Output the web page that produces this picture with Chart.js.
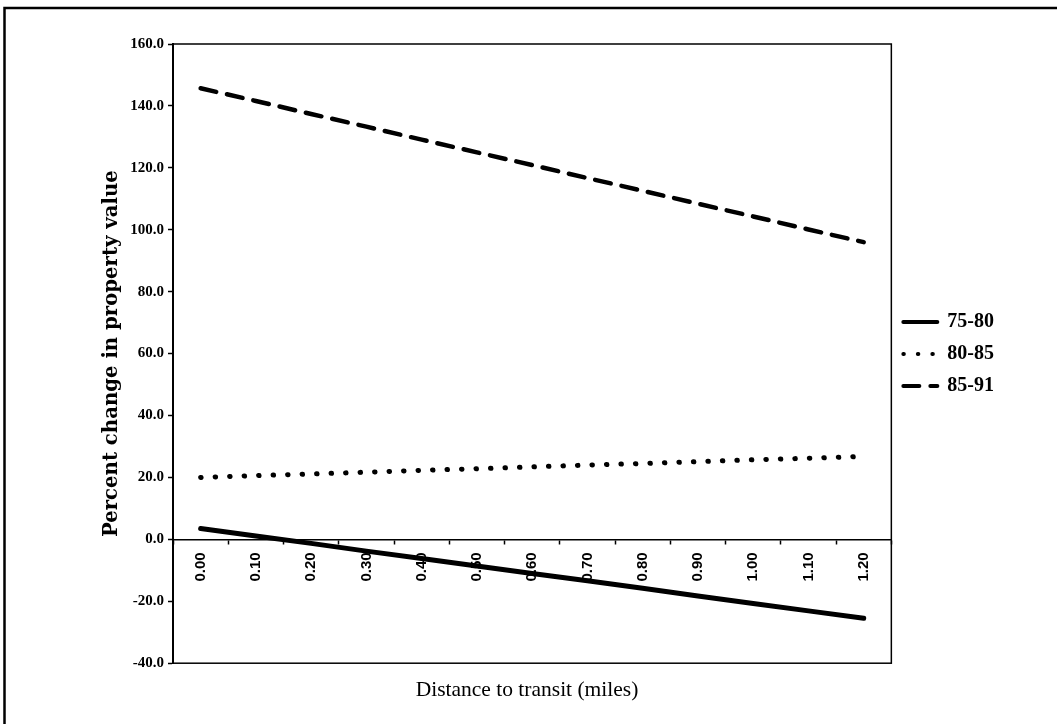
<!DOCTYPE html>
<html>
<head>
<meta charset="utf-8">
<script src="https://cdn.jsdelivr.net/npm/chart.js@4"></script>
<style>
  html, body { margin: 0; padding: 0; background: #fff; }
  #wrap { width: 1057px; height: 724px; }
</style>
</head>
<body>
<div id="wrap"><canvas id="chart"></canvas></div>
<script>
const distances = ['0.00', '0.10', '0.20', '0.30', '0.40', '0.50', '0.60', '0.70', '0.80', '0.90', '1.00', '1.10', '1.20'];
const seriesNames = ['75-80', '80-85', '85-91'];
const change7580 = [3.5, 1.1, -1.3, -3.8, -6.2, -8.6, -11.0, -13.4, -15.8, -18.3, -20.7, -23.1, -25.5];
const change8085 = [20.0, 20.6, 21.1, 21.7, 22.3, 22.8, 23.4, 24.0, 24.5, 25.1, 25.7, 26.2, 26.8];
const change8591 = [145.7, 141.6, 137.4, 133.3, 129.1, 125.0, 120.9, 116.7, 112.6, 108.4, 104.3, 100.1, 96.0];
const yMin = -40, yMax = 160, yStep = 20;

// white page, scan frame (top + left) and the plot area box
const framePlugin = {
  id: 'frame',
  beforeDraw(chart) {
    const c = chart.ctx;
    c.save();
    c.fillStyle = '#fff';
    c.fillRect(0, 0, chart.width, chart.height);
    c.restore();
  },
  afterDraw(chart) {
    const c = chart.ctx;
    const a = chart.chartArea;
    c.save();
    c.strokeStyle = '#000';
    c.lineWidth = 1.5;
    c.strokeRect(a.left, a.top, a.right - a.left, a.bottom - a.top);
    c.lineWidth = 2.5;
    c.beginPath();
    c.moveTo(4.5, chart.height);
    c.lineTo(4.5, 8);
    c.lineTo(chart.width, 8);
    c.stroke();
    c.restore();
  }
};

const ctx = document.getElementById('chart');
const myChart = new Chart(ctx, {
  type: 'line',
  data: {
    labels: distances,
    datasets: [{
      label: seriesNames[0],
      data: change7580,
      borderColor: '#000',
      borderWidth: 5,
      borderCapStyle: 'round'
    }, {
      label: seriesNames[1],
      data: change8085,
      borderColor: '#000',
      borderWidth: 5,
      borderDash: [0.5, 14],
      borderCapStyle: 'round'
    }, {
      label: seriesNames[2],
      data: change8591,
      borderColor: '#000',
      borderWidth: 4.5,
      borderDash: [16, 11],
      borderCapStyle: 'round'
    }]
  },
  plugins: [framePlugin],
  options: {
    responsive: true,
    maintainAspectRatio: false,
    animation: false,
    layout: { padding: { top: 44, left: 50, right: 53, bottom: 21 } },
    elements: { point: { radius: 0 }, line: { tension: 0, fill: false } },
    scales: {
      x: {
        type: 'category',
        position: { y: 0 },
        offset: true,
        grid: { offset: true, drawOnChartArea: false, tickLength: 4, color: '#000', tickWidth: 1.5 },
        border: { color: '#000', width: 1.5 },
        ticks: {
          autoSkip: false,
          minRotation: 90,
          maxRotation: 90,
          padding: 9,
          color: '#000',
          font: { family: 'Liberation Sans', size: 15, weight: 'bold' }
        },
        afterFit: s => { s.height = 0; }
      },
      y: {
        min: yMin,
        max: yMax,
        grid: { drawOnChartArea: false, tickLength: 5, color: '#000', tickWidth: 1.5 },
        border: { color: '#000', width: 2 },
        ticks: {
          stepSize: yStep,
          padding: 4,
          color: '#000',
          font: { family: 'Liberation Serif', size: 15, weight: 'bold' },
          callback: v => v.toFixed(1)
        },
        title: {
          display: true,
          text: 'Percent change in property value',
          color: '#000',
          font: { family: 'DejaVu Serif', size: 19.7, weight: 'bold' },
          padding: { top: 50, bottom: 0 }
        },
        afterFit: s => { s.width = 123; }
      }
    },
    plugins: {
      legend: {
        position: 'right',
        align: 'start',
        title: { display: true, text: ' ', font: { size: 10 }, padding: { top: 244, bottom: 0 } },
        labels: {
          usePointStyle: true,
          pointStyle: 'line',
          pointStyleWidth: 34,
          padding: 12,
          color: '#000',
          font: { family: 'Liberation Serif', size: 20, weight: 'bold' },
          generateLabels: chart => {
            const items = Chart.defaults.plugins.legend.labels.generateLabels(chart);
            items.forEach(it => {
              const ds = chart.data.datasets[it.datasetIndex];
              it.lineDash = ds.borderDash || [];
              it.lineCap = 'round';
              it.lineWidth = 4;
            });
            return items;
          }
        }
      },
      title: {
        display: true,
        position: 'bottom',
        text: 'Distance to transit (miles)',
        color: '#000',
        font: { family: 'Liberation Serif', size: 21.5, weight: 'normal' },
        padding: { top: 14, bottom: 0 }
      },
      tooltip: { enabled: false }
    }
  }
});
</script>
</body>
</html>
